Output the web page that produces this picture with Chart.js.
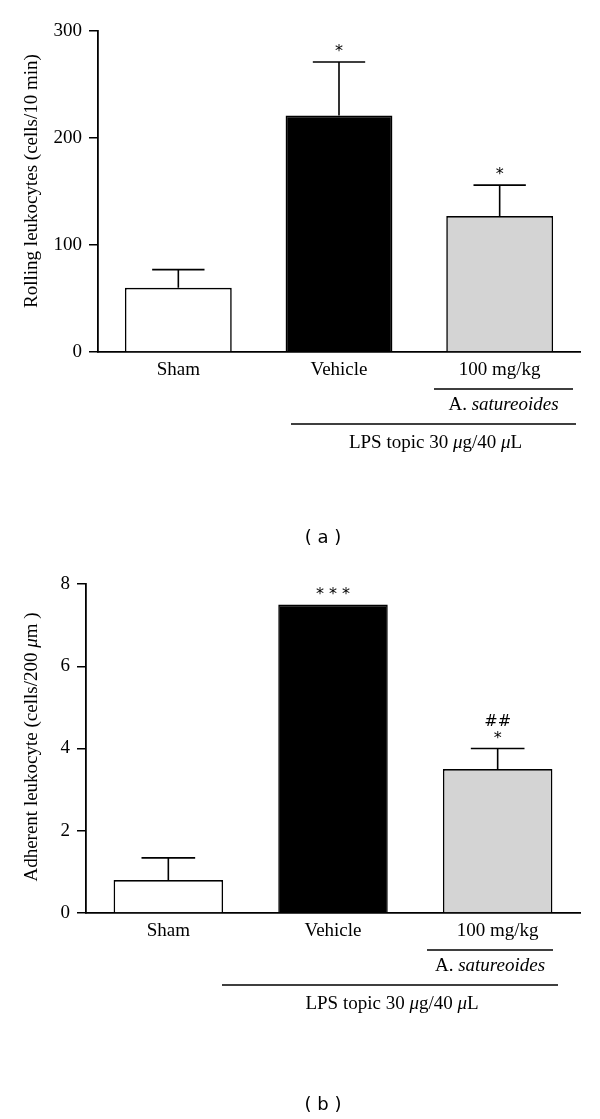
<!DOCTYPE html>
<html>
<head>
<meta charset="utf-8">
<script src="https://cdn.jsdelivr.net/npm/chart.js@4.4.1/dist/chart.umd.min.js"></script>
<style>
  html, body { margin: 0; padding: 0; background: #fff; }
  canvas { display: block; }
</style>
</head>
<body>
<canvas id="rollingChart" width="600" height="560"></canvas>
<canvas id="adherentChart" width="600" height="559"></canvas>
<script>
// categories and values
var groups = ["Sham", "Vehicle", "100 mg/kg"];
var barColors = ["#ffffff", "#000000", "#d4d4d4"];

var rollingMean = [60, 221, 127];
var rollingUpper = [77, 271, 156]; // mean + SEM
var rollingMarks = [[], ["*"], ["*"]];
var rollingTicks = [0, 100, 200, 300];

var adherentMean = [0.8, 7.5, 3.5];
var adherentUpper = [1.34, 7.5, 4.0];
var adherentMarks = [[], ["* * *"], ["##", "*"]];
var adherentTicks = [0, 2, 4, 6, 8];

var SERIF = "'Liberation Serif', 'Times New Roman', serif";
var SANS = "'DejaVu Sans', Verdana, sans-serif";

// draws a row of text pieces (some italic) centred on cx
function drawRuns(ctx, runs, cx, cy, size) {
  var total = 0;
  runs.forEach(function (r) {
    ctx.font = (r.it ? "italic " : "") + size + "px " + SERIF;
    r.w = ctx.measureText(r.t).width;
    total += r.w;
  });
  var x = cx - total / 2;
  ctx.textAlign = "left";
  ctx.textBaseline = "middle";
  runs.forEach(function (r) {
    ctx.font = (r.it ? "italic " : "") + size + "px " + SERIF;
    ctx.fillText(r.t, x, cy);
    x += r.w;
  });
}

var figurePlugin = {
  id: "figureExtras",
  afterDatasetsDraw: function (chart, args, opts) {
    var ctx = chart.ctx;
    var y = chart.scales.y;
    var meta = chart.getDatasetMeta(0);
    ctx.save();
    ctx.strokeStyle = "#000";
    ctx.fillStyle = "#000";
    ctx.lineWidth = 1.6;
    meta.data.forEach(function (bar, i) {
      var top = y.getPixelForValue(opts.upper[i]);
      var barTop = y.getPixelForValue(opts.mean[i]);
      if (top < barTop - 0.5) {
        var half = bar.width * 0.245;
        ctx.beginPath();
        ctx.moveTo(bar.x, barTop);
        ctx.lineTo(bar.x, top);
        ctx.moveTo(bar.x - half, top);
        ctx.lineTo(bar.x + half, top);
        ctx.stroke();
      }
      var lines = opts.marks[i];
      ctx.font = "16px " + SANS;
      ctx.textAlign = "center";
      ctx.textBaseline = "middle";
      for (var k = 0; k < lines.length; k++) {
        var off = 10 + (lines.length - 1 - k) * 17;
        ctx.fillText(lines[k], bar.x, Math.min(top, barTop) - off);
      }
    });
    ctx.restore();
  },
  afterDraw: function (chart, args, opts) {
    var ctx = chart.ctx;
    var area = chart.chartArea;
    ctx.save();
    ctx.fillStyle = "#000";
    ctx.strokeStyle = "#000";
    ctx.lineWidth = 1.5;

    // y axis title
    ctx.save();
    ctx.translate(32, opts.titleY);
    ctx.rotate(-Math.PI / 2);
    drawRuns(ctx, opts.yTitle, 0, 0, 19);
    ctx.restore();

    // treatment brackets under the x labels
    var b = area.bottom;
    ctx.beginPath();
    ctx.moveTo(opts.shortLine[0], b + 37);
    ctx.lineTo(opts.shortLine[1], b + 37);
    ctx.moveTo(opts.longLine[0], b + 72);
    ctx.lineTo(opts.longLine[1], b + 72);
    ctx.stroke();
    drawRuns(ctx, [{ t: "A. " }, { t: "satureoides", it: true }],
      (opts.shortLine[0] + opts.shortLine[1]) / 2, b + 53, 19);
    drawRuns(ctx, [{ t: "LPS topic 30 " }, { t: "μ", it: true }, { t: "g/40 " }, { t: "μ", it: true }, { t: "L" }],
      (opts.longLine[0] + opts.longLine[1]) / 2 + 2, b + 91, 19);

    // panel caption
    ctx.font = "18px " + SANS;
    ctx.textAlign = "center";
    ctx.textBaseline = "middle";
    ctx.fillText(opts.caption, 323, opts.captionY);
    ctx.restore();
  },
};

function makeOptions(cfg) {
  return {
    responsive: false,
    animation: false,
    layout: { padding: { top: cfg.padTop, right: 20, left: 0, bottom: 0 } },
    scales: {
      x: {
        grid: { display: false, drawTicks: false },
        border: { display: true, color: "#000", width: 1.8 },
        ticks: { color: "#000", font: { family: SERIF, size: 19 }, padding: 7 },
        afterFit: function (s) { s.height = cfg.xHeight; },
      },
      y: {
        min: 0,
        max: cfg.max,
        afterBuildTicks: function (s) {
          s.ticks = cfg.ticks.map(function (v) { return { value: v }; });
        },
        grid: { drawOnChartArea: false, drawTicks: true, tickLength: 9, color: "#000", lineWidth: 1.5 },
        border: { display: true, color: "#000", width: 1.8 },
        ticks: { color: "#000", font: { family: SERIF, size: 19 }, padding: 7 },
        afterFit: function (s) { s.width = cfg.yWidth; },
      },
    },
    plugins: {
      legend: { display: false },
      tooltip: { enabled: false },
      figureExtras: cfg.extras,
    },
  };
}

// (a) rolling leukocytes
new Chart(document.getElementById("rollingChart").getContext("2d"), {
  type: "bar",
  data: {
    labels: groups,
    datasets: [{
      data: rollingMean,
      backgroundColor: barColors,
      borderColor: "#000",
      borderWidth: 1.6,
      borderSkipped: "bottom",
      barPercentage: 0.665,
      categoryPercentage: 1,
    }],
  },
  options: makeOptions({
    padTop: 31, xHeight: 208, yWidth: 98, max: 300, ticks: rollingTicks,
    extras: {
      mean: rollingMean, upper: rollingUpper, marks: rollingMarks,
      yTitle: [{ t: "Rolling leukocytes (cells/10 min)" }],
      titleY: 181,
      shortLine: [434, 573],
      longLine: [291, 576],
      caption: "( a )",
      captionY: 538,
    },
  }),
  plugins: [figurePlugin],
});

// (b) adherent leukocytes
new Chart(document.getElementById("adherentChart").getContext("2d"), {
  type: "bar",
  data: {
    labels: groups,
    datasets: [{
      data: adherentMean,
      backgroundColor: barColors,
      borderColor: "#000",
      borderWidth: 1.6,
      borderSkipped: "bottom",
      barPercentage: 0.665,
      categoryPercentage: 1,
    }],
  },
  options: makeOptions({
    padTop: 24, xHeight: 206, yWidth: 86, max: 8, ticks: adherentTicks,
    extras: {
      mean: adherentMean, upper: adherentUpper, marks: adherentMarks,
      yTitle: [{ t: "Adherent leukocyte (cells/200 " }, { t: "μ", it: true }, { t: "m )" }],
      titleY: 187,
      shortLine: [427, 553],
      longLine: [222, 558],
      caption: "( b )",
      captionY: 545,
    },
  }),
  plugins: [figurePlugin],
});
</script>
</body>
</html>
